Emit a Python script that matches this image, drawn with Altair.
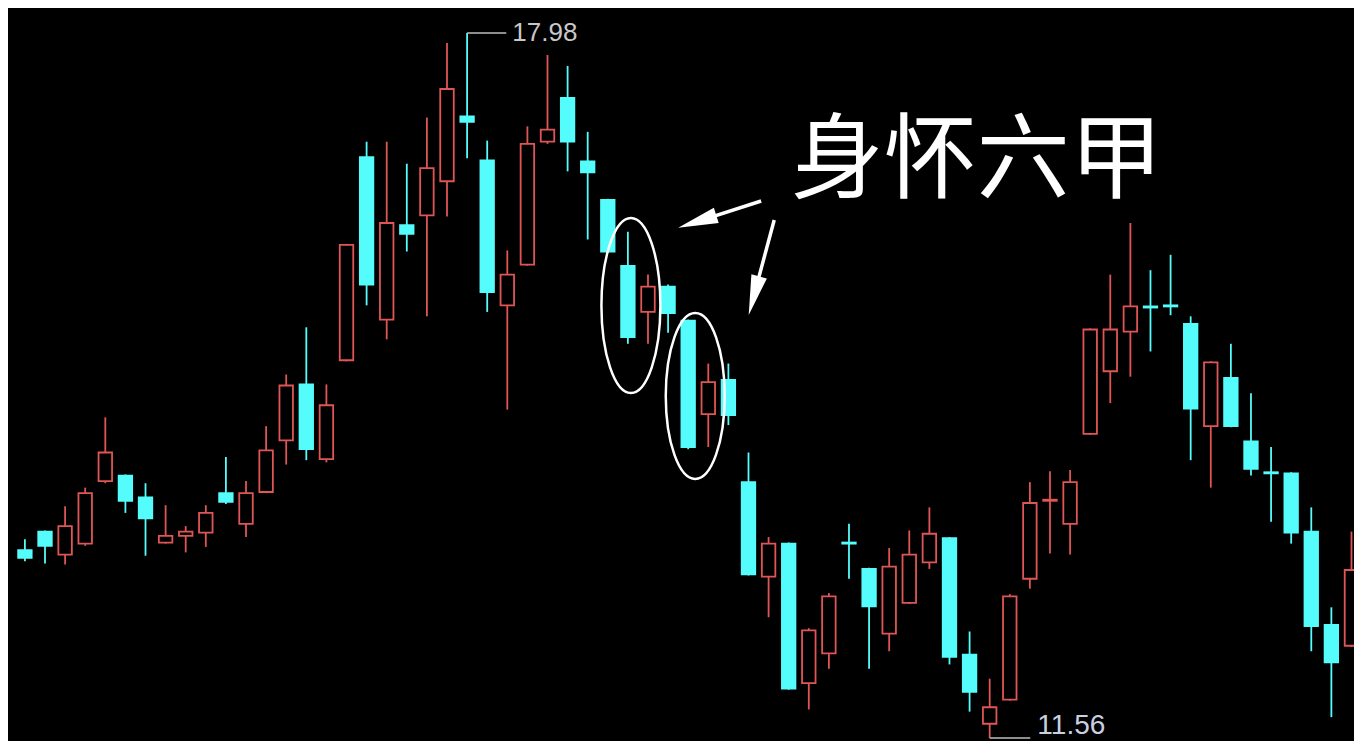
import altair as alt
import pandas as pd

# ---- candle data ----
opens = [13.27, 13.44, 13.23, 13.33, 13.90, 13.95, 13.75, 13.34, 13.40, 13.43,
         13.79, 13.51, 13.80, 14.27, 14.78, 14.10, 15.00, 16.85, 15.37, 16.23,
         16.32, 16.63, 17.22, 16.82, 15.50, 15.87, 16.99, 17.39, 16.81, 16.46,
         15.86, 15.44, 15.67, 15.36, 14.51, 14.82, 13.89, 13.03, 13.33, 12.06,
         12.33, 13.34, 13.10, 12.51, 12.79, 13.16, 13.38, 12.32, 11.69, 11.91,
         13.01, 13.72, 13.51, 14.33, 14.90, 15.26, 15.49, 15.50, 15.33, 14.40,
         14.84, 14.26, 13.98, 13.97, 13.44, 12.59, 12.40]
highs = [13.37, 13.45, 13.67, 13.84, 14.48, 13.96, 13.88, 13.68, 13.49, 13.68,
         14.12, 13.90, 14.40, 14.87, 15.30, 14.78, 16.06, 16.99, 16.99, 16.79,
         17.21, 17.89, 17.98, 17.00, 16.00, 17.13, 17.78, 17.68, 17.08, 16.47,
         16.17, 15.78, 15.69, 15.37, 14.97, 14.97, 14.16, 13.39, 13.34, 12.56,
         12.88, 13.51, 13.11, 13.29, 13.45, 13.66, 13.39, 12.53, 12.10, 12.87,
         13.89, 13.99, 14.00, 15.29, 15.78, 16.25, 15.82, 15.96, 15.40, 14.99,
         15.15, 14.70, 14.21, 13.98, 13.66, 12.75, 13.44]
lows = [13.17, 13.15, 13.14, 13.31, 13.88, 13.61, 13.22, 13.33, 13.25, 13.30,
        13.69, 13.39, 13.79, 14.05, 14.09, 14.07, 14.99, 15.50, 15.19, 15.99,
        15.40, 16.31, 16.84, 15.44, 14.55, 15.86, 16.97, 16.72, 16.10, 15.98,
        15.15, 15.15, 15.25, 14.19, 14.21, 14.41, 13.04, 12.66, 12.00, 11.82,
        12.19, 13.01, 12.19, 12.35, 12.78, 13.10, 12.23, 11.80, 11.56, 11.90,
        12.92, 13.24, 13.23, 14.32, 14.61, 14.85, 15.08, 15.41, 14.09, 13.84,
        14.39, 13.95, 13.53, 13.33, 12.35, 11.75, 12.39]
closes = [13.20, 13.31, 13.49, 13.79, 14.16, 13.72, 13.56, 13.40, 13.44, 13.61,
          13.71, 13.79, 14.18, 14.77, 14.19, 14.59, 16.05, 15.69, 16.25, 16.15,
          16.75, 17.47, 17.17, 15.62, 15.78, 16.97, 17.10, 16.99, 16.71, 15.99,
          15.21, 15.67, 15.43, 14.21, 14.80, 14.50, 13.05, 13.33, 12.01, 12.54,
          12.85, 13.33, 12.76, 13.12, 13.23, 13.42, 12.30, 11.98, 11.84, 12.85,
          13.70, 13.73, 13.89, 15.28, 15.28, 15.49, 15.48, 15.49, 14.56, 14.98,
          14.40, 14.01, 13.97, 13.43, 12.58, 12.25, 13.09]

high_label = "17.98"
low_label = "11.56"
title_text = "身怀六甲"

RED = "#E05555"
CYAN = "#54FCFC"

df = pd.DataFrame({
    "i": list(range(len(opens))),
    "open": opens, "high": highs, "low": lows, "close": closes,
})
df["dir"] = ["up" if c >= o else "down" for o, c in zip(opens, closes)]

xs = alt.Scale(domain=[-0.5926, 65.877], nice=False, zero=False)
ys = alt.Scale(domain=[11.5327, 18.2077], nice=False, zero=False)

X = alt.X("i:Q", scale=xs, axis=None)

base = alt.Chart(df)
wicks = base.mark_rule(strokeWidth=1.8).encode(
    x=X,
    y=alt.Y("low:Q", scale=ys, axis=None),
    y2="high:Q",
    color=alt.Color("dir:N", scale=alt.Scale(domain=["up", "down"], range=[RED, CYAN]), legend=None),
)
bodies = base.mark_bar(size=13.5, strokeWidth=1.8).encode(
    x=X,
    y=alt.Y("open:Q", scale=ys, axis=None),
    y2="close:Q",
    fill=alt.Fill("dir:N", scale=alt.Scale(domain=["up", "down"], range=["#000000", CYAN]), legend=None),
    stroke=alt.Stroke("dir:N", scale=alt.Scale(domain=["up", "down"], range=[RED, CYAN]), legend=None),
)

# ---- annotations ----
ext = pd.DataFrame({"x": [22, 48], "x2": [23.95, 50.02], "y": [17.98, 11.56]})
ext_lines = alt.Chart(ext).mark_rule(color="#bdbdbd", strokeWidth=1.5).encode(
    x=alt.X("x:Q", scale=xs, axis=None), x2="x2:Q",
    y=alt.Y("y:Q", scale=ys, axis=None),
)
hi_txt = alt.Chart(pd.DataFrame({"x": [24.25], "y": [17.98], "t": [high_label]})).mark_text(
    align="left", baseline="middle", font="Liberation Sans", fontSize=26, color="#c8c8c8"
).encode(x=alt.X("x:Q", scale=xs, axis=None), y=alt.Y("y:Q", scale=ys, axis=None), text="t:N")
lo_txt = alt.Chart(pd.DataFrame({"x": [50.37], "y": [11.56], "t": [low_label]})).mark_text(
    align="left", baseline="middle", font="Liberation Sans", fontSize=28, color="#c9d0e0", dy=-12
).encode(x=alt.X("x:Q", scale=xs, axis=None), y=alt.Y("y:Q", scale=ys, axis=None), text="t:N")

title = alt.Chart(pd.DataFrame({"x": [47.36], "y": [16.80], "t": [title_text]})).mark_text(
    align="center", baseline="middle", font="Noto Sans CJK SC", fontSize=93,
    fontWeight=400, color="white"
).encode(x=alt.X("x:Q", scale=xs, axis=None), y=alt.Y("y:Q", scale=ys, axis=None), text="t:N")

def ellipse_path(a):
    k = 0.5523
    ak = a * k
    return (f"M0,-1C{ak:.4f},-1,{a:.4f},-{k},{a:.4f},0"
            f"C{a:.4f},{k},{ak:.4f},1,0,1"
            f"C-{ak:.4f},1,-{a:.4f},{k},-{a:.4f},0"
            f"C-{a:.4f},-{k},-{ak:.4f},-1,0,-1Z")

ell1 = alt.Chart(pd.DataFrame({"x": [30.15], "y": [15.4985]})).mark_point(
    shape=ellipse_path(0.337), size=30625, filled=False, stroke="white", strokeWidth=2.5, opacity=1
).encode(x=alt.X("x:Q", scale=xs, axis=None), y=alt.Y("y:Q", scale=ys, axis=None))
ell2 = alt.Chart(pd.DataFrame({"x": [33.35], "y": [14.6743]})).mark_point(
    shape=ellipse_path(0.355), size=27556, filled=False, stroke="white", strokeWidth=2.5, opacity=1
).encode(x=alt.X("x:Q", scale=xs, axis=None), y=alt.Y("y:Q", scale=ys, axis=None))

arrows = pd.DataFrame({
    "x": [36.63, 37.28], "y": [16.450, 16.277],
    "x2": [33.45, 36.27], "y2": [16.263, 15.588],
    "ang": [252.3, 195.1],
})
arrow_lines = alt.Chart(arrows).mark_rule(color="white", strokeWidth=3.5).encode(
    x=alt.X("x:Q", scale=xs, axis=None), x2="x2:Q",
    y=alt.Y("y:Q", scale=ys, axis=None), y2="y2:Q",
)
arrow_heads = alt.Chart(arrows).mark_point(
    shape="M0,-1L0.4,1L-0.4,1Z", size=1600, filled=True, color="white", opacity=1
).encode(
    x=alt.X("x2:Q", scale=xs, axis=None),
    y=alt.Y("y2:Q", scale=ys, axis=None),
    angle=alt.Angle("ang:Q", scale=None),
)

chart = alt.layer(
    wicks, bodies, ext_lines, hi_txt, lo_txt, title, ell1, ell2, arrow_lines, arrow_heads
).properties(
    width=1346, height=733, padding=0,
    autosize=alt.AutoSizeParams(type="none"),
    background="black",
).configure_view(stroke=None)

chart.save("out.html", embed_options={"renderer": "svg", "actions": False})
